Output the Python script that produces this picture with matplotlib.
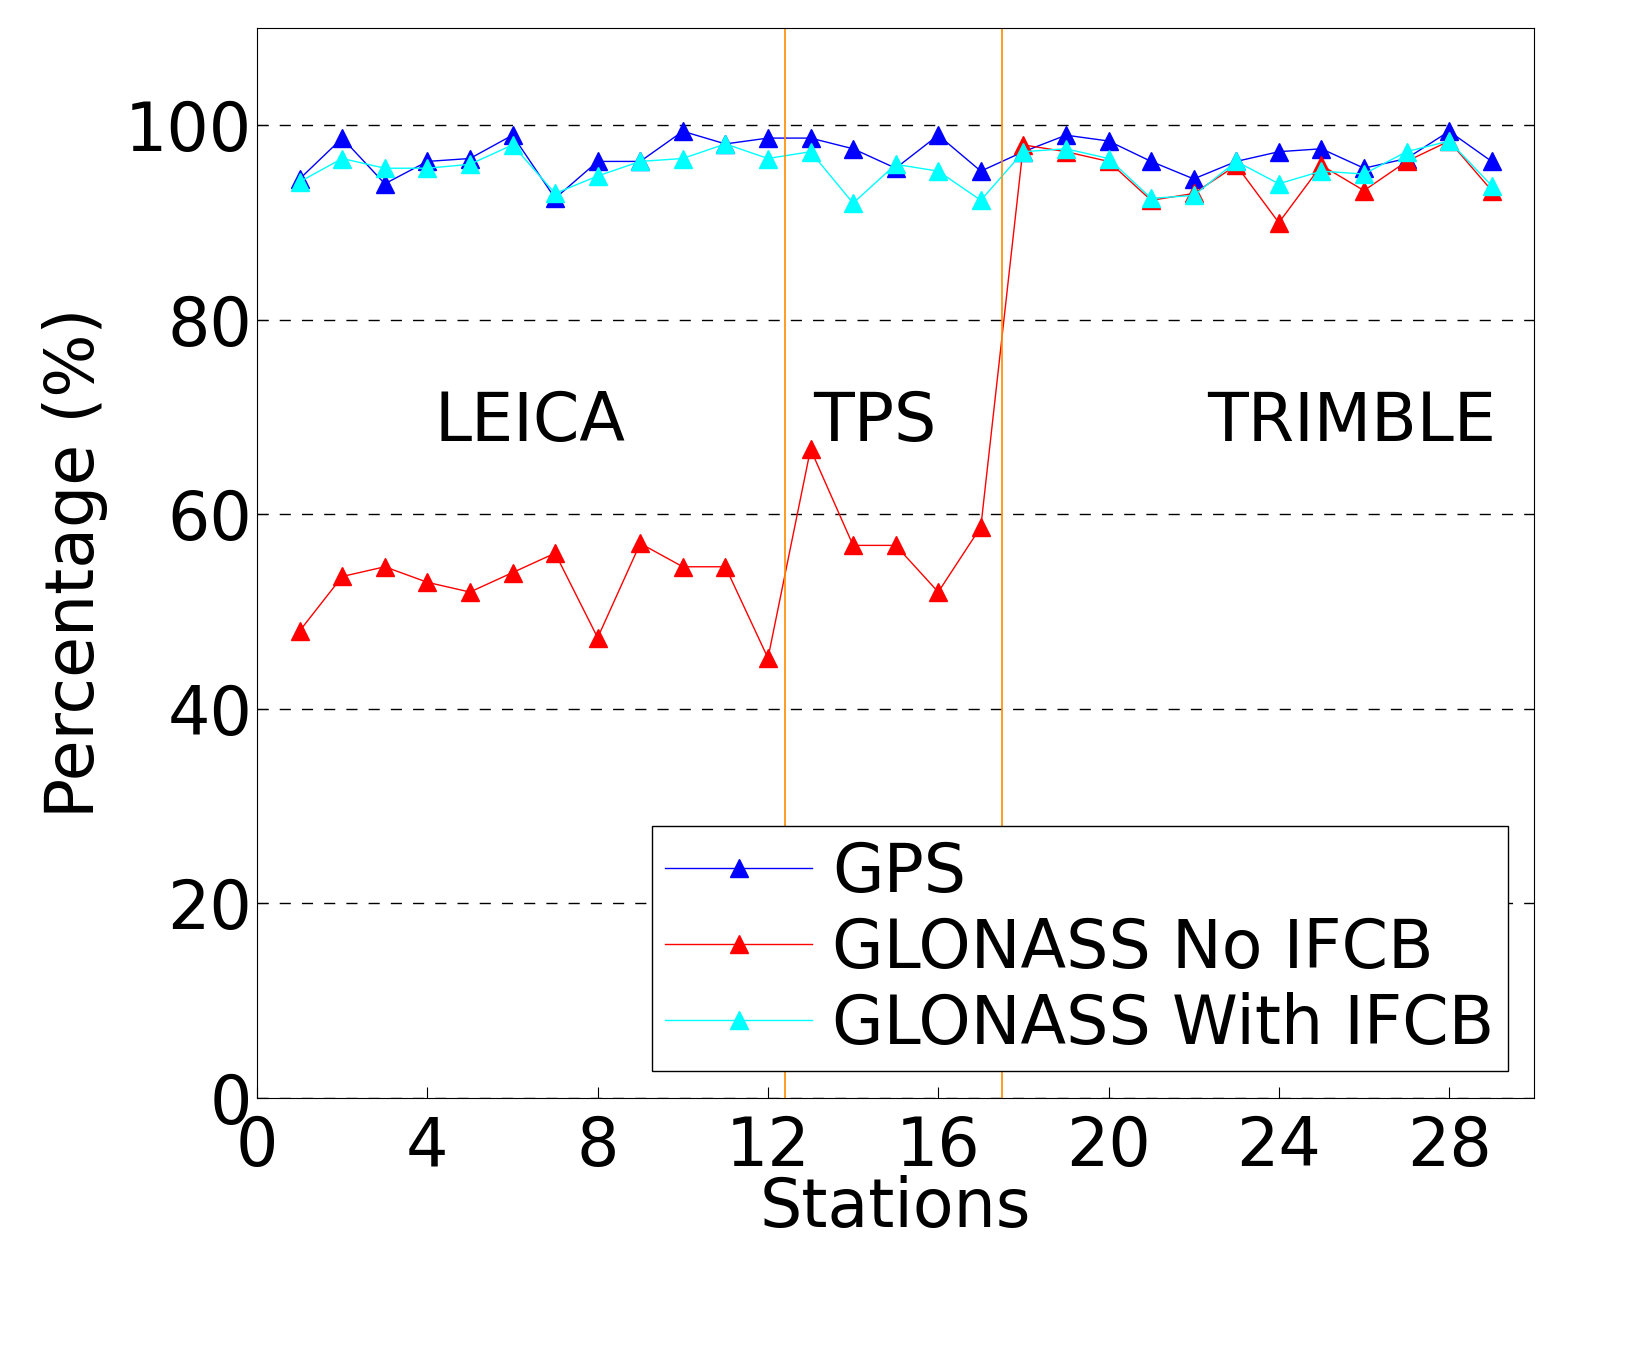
import matplotlib.pyplot as plt

stations = list(range(1, 30))
gps = [94.5, 98.7, 94.0, 96.3, 96.6, 99.0, 92.5, 96.3, 96.3, 99.4, 98.1, 98.7, 98.7, 97.6, 95.6,
       99.0, 95.3, 97.3, 99.0, 98.4, 96.3, 94.5, 96.3, 97.3, 97.6, 95.6, 96.6, 99.4, 96.3]
glo_no = [48.0, 53.6, 54.6, 53.0, 52.0, 54.0, 56.0, 47.3, 57.0, 54.6, 54.6, 45.2, 66.7, 56.8, 56.8,
          52.0, 58.7, 98.0, 97.3, 96.3, 92.3, 93.0, 95.9, 90.0, 95.9, 93.3, 96.3, 98.4, 93.3]
glo_with = [94.2, 96.6, 95.6, 95.6, 96.0, 98.0, 93.0, 94.8, 96.3, 96.6, 98.1, 96.6, 97.3, 92.0, 96.0,
            95.3, 92.3, 97.3, 97.6, 96.6, 92.5, 92.8, 96.3, 94.0, 95.3, 95.0, 97.3, 98.4, 93.8]
separators = [12.4, 17.5]
groups = ["LEICA", "TPS", "TRIMBLE"]
group_x = [6.4, 14.5, 25.7]

plt.rcParams['font.family'] = ['DejaVu Sans']
fig = plt.figure(figsize=(16.48, 13.45), dpi=100)
ax = fig.add_axes([0.156, 0.184, 0.775, 0.795])

ax.plot(stations, gps, color='#0000ff', marker='^', markersize=13, lw=1, label='GPS')
ax.plot(stations, glo_no, color='#ff0000', marker='^', markersize=13, lw=1, label='GLONASS No IFCB')
ax.plot(stations, glo_with, color='#00ffff', marker='^', markersize=13, lw=1, label='GLONASS With IFCB')

for s in separators:
    ax.axvline(s, color='#ff8c00', lw=1.2)
for name, gx in zip(groups, group_x):
    ax.text(gx, 69.5, name, fontsize=48, ha='center', va='center')

ax.set_xlim(0, 30)
ax.set_ylim(0, 110)
ax.set_xticks(range(0, 29, 4))
ax.set_yticks(range(0, 101, 20))
ax.yaxis.grid(True, color='black', linestyle=(0, (8, 8)), lw=1)
ax.tick_params(direction='in', labelsize=48, length=8)
ax.tick_params(axis='x', pad=12)
ax.set_xlabel('Stations', fontsize=48, labelpad=-4)
ax.set_ylabel('Percentage (%)', fontsize=48, labelpad=12)

leg = ax.legend(loc='lower right', fontsize=48, handlelength=2.2, handletextpad=0.3,
                labelspacing=0.15, borderpad=0.2, fancybox=False,
                framealpha=1, edgecolor='black', borderaxespad=0.4)
leg.get_frame().set_linewidth(1)

fig.savefig('out.png')
